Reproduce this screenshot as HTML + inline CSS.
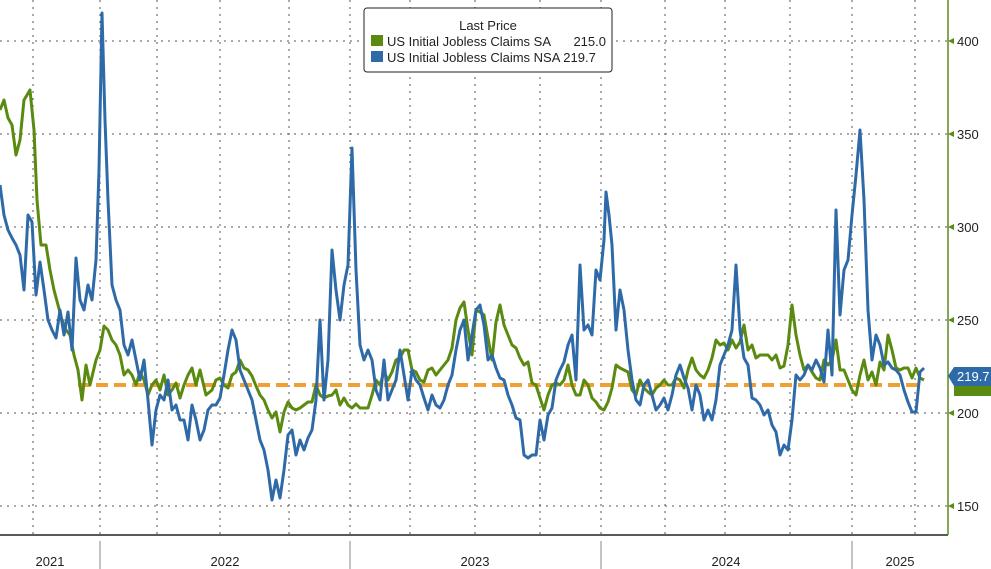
<!DOCTYPE html>
<html><head><meta charset="utf-8"><style>
html,body{margin:0;padding:0;background:#fff;}
svg{display:block;font-family:"Liberation Sans",sans-serif;}
</style></head><body>
<svg width="991" height="569" viewBox="0 0 991 569" xmlns="http://www.w3.org/2000/svg">
<rect width="991" height="569" fill="#fff"/>
<g stroke="#555" stroke-width="1" stroke-dasharray="2,5">
<line x1="0" y1="41" x2="948" y2="41"/><line x1="0" y1="134" x2="948" y2="134"/>
<line x1="0" y1="227" x2="948" y2="227"/><line x1="0" y1="320" x2="948" y2="320"/>
<line x1="0" y1="413" x2="948" y2="413"/><line x1="0" y1="506" x2="948" y2="506"/>
<line x1="33" y1="0" x2="33" y2="535"/><line x1="100" y1="0" x2="100" y2="535"/>
<line x1="157" y1="0" x2="157" y2="535"/><line x1="220" y1="0" x2="220" y2="535"/>
<line x1="289" y1="0" x2="289" y2="535"/><line x1="350" y1="0" x2="350" y2="535"/>
<line x1="410" y1="0" x2="410" y2="535"/><line x1="475" y1="0" x2="475" y2="535"/>
<line x1="540" y1="0" x2="540" y2="535"/><line x1="601" y1="0" x2="601" y2="535"/>
<line x1="665" y1="0" x2="665" y2="535"/><line x1="725" y1="0" x2="725" y2="535"/>
<line x1="790" y1="0" x2="790" y2="535"/><line x1="852" y1="0" x2="852" y2="535"/>
<line x1="915" y1="0" x2="915" y2="535"/>
</g>
<line x1="0" y1="535" x2="948" y2="535" stroke="#222" stroke-width="1.5"/>
<line x1="948" y1="0" x2="948" y2="535" stroke="#5a8a1a" stroke-width="1.5"/>
<g stroke="#888" stroke-width="1">
<line x1="100" y1="541" x2="100" y2="569"/><line x1="350" y1="541" x2="350" y2="569"/>
<line x1="601" y1="541" x2="601" y2="569"/><line x1="852" y1="541" x2="852" y2="569"/>
</g>
<g font-size="13" fill="#222" text-anchor="middle">
<text x="50" y="566">2021</text><text x="225" y="566">2022</text>
<text x="475" y="566">2023</text><text x="726" y="566">2024</text><text x="900" y="566">2025</text>
</g>
<g font-size="13" fill="#222">
<text x="957" y="46">400</text><text x="957" y="139">350</text><text x="957" y="232">300</text>
<text x="957" y="325">250</text><text x="957" y="418">200</text><text x="957" y="511">150</text>
</g>
<g fill="#5a8a1a">
<polygon points="948,41 954,38 954,44"/><polygon points="948,134 954,131 954,137"/>
<polygon points="948,227 954,224 954,230"/><polygon points="948,320 954,317 954,323"/>
<polygon points="948,413 954,410 954,416"/><polygon points="948,506 954,503 954,509"/>
</g>
<line x1="78" y1="385" x2="922" y2="385" stroke="#f0a030" stroke-width="4" stroke-dasharray="12,6"/>
<polyline fill="none" stroke="#5a8a10" stroke-width="3" stroke-linejoin="round" points="0,110 4,100 8,118 12,125 16,155 20,140 24,100 30,90 34,130 37,200 41,245 46,245 50,270 54,290 58,305 62,320 66,330 70,335 74,355 78,370 82,400 86,365 90,385 96,360 100,350 104,326 108,330 112,340 116,345 120,355 124,375 128,370 132,375 136,385 140,372 144,380 148,395 152,385 156,380 160,390 164,375 168,395 172,390 176,383 180,398 184,385 188,375 192,368 196,385 200,370 206,395 212,390 216,380 220,378 224,385 228,388 232,375 236,372 240,360 244,368 248,370 252,376 256,386 260,395 264,400 268,410 272,418 276,412 280,432 284,412 288,402 292,408 296,410 300,408 304,405 308,402 312,402 316,385 320,395 324,398 328,396 332,395 336,390 340,405 344,398 348,405 352,408 356,404 360,408 364,408 368,408 372,395 376,380 380,385 384,372 388,380 392,372 396,360 400,358 404,350 408,350 412,370 416,372 420,380 424,382 428,370 432,368 436,375 440,370 444,365 448,360 452,348 456,320 460,308 464,302 468,330 472,355 476,310 480,312 484,315 488,338 492,360 496,322 500,305 504,325 508,335 512,345 516,348 520,358 524,365 528,362 532,383 536,385 540,398 544,410 548,395 552,385 556,383 560,385 564,380 568,365 572,385 576,395 580,395 584,380 588,385 592,398 596,402 600,408 604,410 608,402 612,388 616,365 620,368 624,370 628,372 632,390 636,395 640,380 644,388 648,392 652,395 656,388 660,385 664,380 668,385 672,385 676,378 680,380 684,388 688,370 692,358 696,370 700,375 704,378 708,370 712,358 716,340 720,345 724,343 728,350 732,340 736,348 740,342 744,325 748,350 752,345 756,358 760,355 764,355 768,355 772,360 776,355 780,368 784,366 788,345 792,305 796,335 800,355 804,370 808,365 812,372 816,378 820,380 824,360 828,365 832,360 836,340 840,370 844,370 848,380 852,390 856,395 860,375 864,360 868,380 872,372 876,385 880,362 884,370 888,335 892,350 896,368 900,370 904,368 908,368 912,378 916,368 920,378 924,380"/>
<polyline fill="none" stroke="#2f6aa8" stroke-width="3" stroke-linejoin="round" points="0,185 4,215 8,230 12,238 16,245 20,255 24,290 28,215 32,222 36,295 40,262 44,290 48,320 52,330 56,338 60,310 64,335 68,312 72,350 76,258 80,300 84,310 88,285 92,300 96,260 99,170 102,13 105,120 108,200 112,285 116,300 120,310 124,345 128,355 132,340 136,360 140,380 144,360 148,400 152,445 156,410 160,395 164,400 168,380 172,410 176,405 180,420 184,420 188,440 192,405 196,420 200,440 204,430 208,410 212,405 216,405 220,398 224,375 228,350 232,330 236,340 240,370 244,380 248,390 252,400 256,420 260,440 264,450 268,470 272,500 276,480 280,498 284,470 288,435 292,430 296,455 300,440 304,450 308,438 312,430 316,400 320,320 324,400 328,360 332,250 336,290 340,320 344,285 348,265 352,148 356,270 360,345 364,360 368,350 372,360 376,390 380,400 384,360 388,400 392,390 396,380 400,350 404,375 408,400 412,370 416,380 420,385 424,398 428,410 432,395 436,405 440,408 444,400 448,385 452,375 456,350 460,330 464,320 468,360 472,335 476,310 480,305 484,325 488,360 492,355 496,368 500,378 504,380 508,395 512,405 516,418 520,420 524,455 528,458 532,455 536,455 540,420 544,440 548,415 552,408 556,380 560,370 564,362 568,345 572,335 576,380 580,265 584,330 588,325 592,335 596,270 600,280 604,240 606,192 609,215 612,245 616,330 620,290 624,310 628,350 632,380 636,400 640,405 644,385 648,380 652,395 656,410 660,405 664,398 668,410 672,395 676,375 680,365 684,378 688,388 692,410 696,385 700,395 704,420 708,410 712,420 716,400 720,365 724,355 728,345 732,330 736,265 740,330 744,358 748,365 752,398 756,400 760,405 764,415 768,410 772,425 776,432 780,455 784,445 788,450 792,420 796,375 800,380 804,375 808,365 812,370 816,360 820,368 824,382 828,330 832,375 836,210 840,315 844,270 848,260 852,215 856,175 860,130 864,200 868,310 872,360 876,335 880,345 884,365 888,362 892,368 896,370 900,375 904,390 908,402 912,412 916,412 920,372 924,368"/>
<path d="M954,380 L960,386 L991,386 L991,396 L954,396 Z" fill="#5a8a10"/>
<path d="M948,376 L954,367 L991,367 L991,386 L954,386 Z" fill="#2f6aa8"/>
<text x="957" y="381" font-size="13" fill="#fff">219.7</text>
<rect x="364" y="8" width="248" height="64" rx="3" fill="#fff" stroke="#222" stroke-width="1"/>
<text x="488" y="30" font-size="13" fill="#222" text-anchor="middle">Last Price</text>
<rect x="371" y="35" width="12" height="11" fill="#5a8a10"/>
<rect x="371" y="51" width="12" height="11" fill="#2f6aa8"/>
<text x="387" y="46" font-size="13" fill="#222">US Initial Jobless Claims SA</text>
<text x="606" y="46" font-size="13" fill="#222" text-anchor="end">215.0</text>
<text x="387" y="62" font-size="13" fill="#222">US Initial Jobless Claims NSA 219.7</text>
</svg>
</body></html>
